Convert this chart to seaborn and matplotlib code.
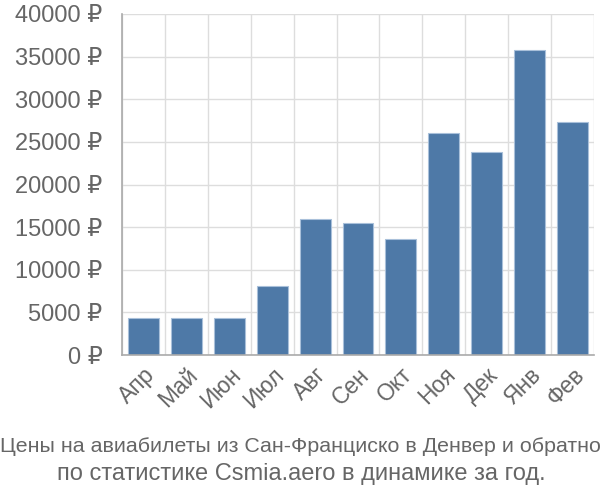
import matplotlib
matplotlib.use("Agg")
import matplotlib.pyplot as plt
import seaborn as sns
import pandas as pd

months = ["Апр", "Май", "Июн", "Июл", "Авг", "Сен", "Окт", "Ноя", "Дек", "Янв", "Фев"]
prices = [4375, 4375, 4375, 8050, 16000, 15450, 13600, 26000, 23780, 35780, 27370]
y_ticks = [0, 5000, 10000, 15000, 20000, 25000, 30000, 35000, 40000]
title_lines = ["Цены на авиабилеты из Сан-Франциско в Денвер и обратно",
               "по статистике Csmia.aero в динамике за год."]

sns.set_style("white")
plt.rcParams['font.family'] = ['Liberation Sans', 'DejaVu Sans']

df = pd.DataFrame({"month": months, "price": prices})

fig = plt.figure(figsize=(6, 5), dpi=100)
ax = fig.add_axes([122/600, 1-355/500, (594-122)/600, (355-14)/500])

sns.barplot(data=df, x="month", y="price", ax=ax, color="#4e79a7",
            saturation=1, width=0.72, edgecolor="#a9c0da", linewidth=0.8)

ax.set_ylim(0, 40000)
ax.set_xlim(-0.5, len(months) - 0.5)
ax.set_yticks(y_ticks)
ax.set_yticklabels([f"{v} ₽" for v in y_ticks])
ax.set_xticks([i - 0.5 for i in range(len(months) + 1)], minor=False)
ax.set_xticklabels([])
ax.set_xticks(range(len(months)), minor=True)
ax.set_xticklabels(months, minor=True, rotation=45, ha="right",
                   rotation_mode="anchor", fontsize=16.5, color="#666666")
ax.tick_params(axis="x", which="minor", length=0, pad=6)
ax.tick_params(axis="x", which="major", length=13, color="#dddddd", width=1)
ax.tick_params(axis="y", length=13, color="#dddddd", width=1, labelsize=17,
               labelcolor="#666666", pad=1)
ax.grid(True, which="major", color="#dddddd", linewidth=1)
ax.set_axisbelow(True)
ax.set_xlabel("")
ax.set_ylabel("")
for s in ["top", "right"]:
    ax.spines[s].set_visible(False)
ax.spines["left"].set_color("#aaaaaa")
ax.spines["bottom"].set_color("#aaaaaa")
ax.spines["left"].set_linewidth(1.2)
ax.spines["bottom"].set_linewidth(1.2)

fig.text(0.5, 1-447/500, title_lines[0], ha="center", va="center",
         fontsize=15.4, color="#666666")
fig.text(0.503, 1-474/500, title_lines[1], ha="center", va="center",
         fontsize=17, color="#666666")

fig.savefig("out.png", dpi=100)
